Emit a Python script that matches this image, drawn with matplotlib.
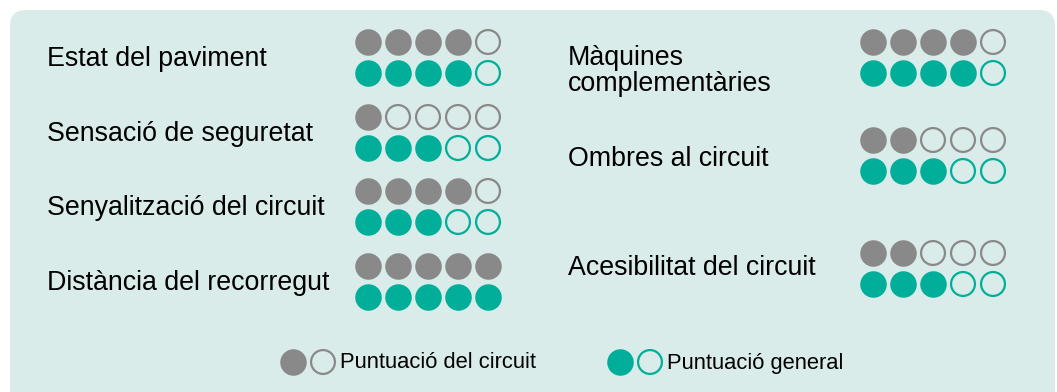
import matplotlib
matplotlib.use("Agg")
import matplotlib.pyplot as plt
from matplotlib.patches import FancyBboxPatch

plt.rcParams['font.family'] = ['Liberation Sans', 'DejaVu Sans']

# data
left_labels = ["Estat del paviment", "Sensació de seguretat",
               "Senyalització del circuit", "Distància del recorregut"]
left_circuit = [4, 1, 4, 5]
left_general = [4, 3, 3, 5]

right_labels = ["Màquines\ncomplementàries", "Ombres al circuit",
                "Acesibilitat del circuit"]
right_circuit = [4, 2, 2]
right_general = [4, 3, 3]

legend_labels = ["Puntuació del circuit", "Puntuació general"]

GRAY = "#898989"
TEAL = "#00AE99"
BG = "#D9ECE9"
MAX_SCORE = 5
S_FULL = 365
S_OPEN = 295
LW_OPEN = 1.6


def dots(ax, x0, y, score, color):
	xs = [x0 + 30 * i for i in range(MAX_SCORE)]
	ax.scatter(xs[:score], [y] * score, s=S_FULL, color=color, linewidths=0, zorder=3)
	n = MAX_SCORE - score
	if n:
		ax.scatter(xs[score:], [y] * n, s=S_OPEN, facecolors="none",
		           edgecolors=color, linewidths=LW_OPEN, zorder=3)


def main():
	fig = plt.figure(figsize=(10.57, 3.92), dpi=100)
	ax = fig.add_axes([0, 0, 1, 1])
	ax.set_xlim(0, 1057)
	ax.set_ylim(392, 0)
	ax.axis("off")

	box = FancyBboxPatch((10, 10), 1045, 420, boxstyle="round,pad=0,rounding_size=16",
	                     facecolor=BG, edgecolor="none", zorder=0)
	ax.add_patch(box)

	left_rows = [42, 117, 191, 266]
	for lab, c, g, y in zip(left_labels, left_circuit, left_general, left_rows):
		ax.text(47, y + 17, lab, fontsize=19.3, va="center", ha="left")
		dots(ax, 368, y, c, GRAY)
		dots(ax, 368, y + 31, g, TEAL)

	right_rows = [42, 140, 253]
	right_text_y = [71, 159, 268]
	for lab, c, g, y, ty in zip(right_labels, right_circuit, right_general, right_rows, right_text_y):
		ax.text(568, ty, lab, fontsize=19.3, va="center", ha="left", linespacing=1.02)
		dots(ax, 873, y, c, GRAY)
		dots(ax, 873, y + 31, g, TEAL)

	# legend
	leg_y = 362
	for x0, color, lab in zip([293, 620], [GRAY, TEAL], legend_labels):
		ax.scatter([x0], [leg_y], s=S_FULL, color=color, linewidths=0, zorder=3)
		ax.scatter([x0 + 30], [leg_y], s=S_OPEN, facecolors="none",
		           edgecolors=color, linewidths=LW_OPEN, zorder=3)
		ax.text(x0 + 47, leg_y + 1, lab, fontsize=15.8, va="center", ha="left")

	fig.savefig("out.png", dpi=100)


if __name__ == "__main__":
	main()
